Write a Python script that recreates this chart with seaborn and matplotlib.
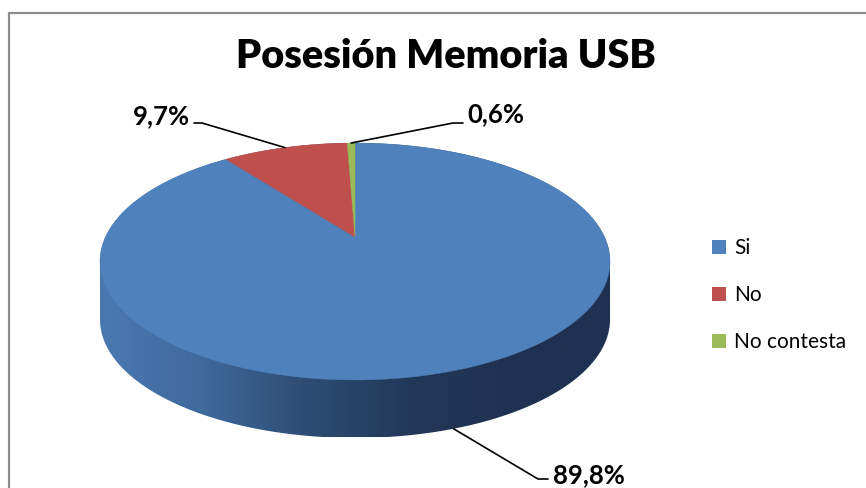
import numpy as np
import matplotlib
matplotlib.use("Agg")
import matplotlib.pyplot as plt
from matplotlib.patches import Polygon, Patch
from matplotlib.colors import LinearSegmentedColormap
import seaborn as sns

# data
categories = ["Si", "No", "No contesta"]
values = [89.8, 9.7, 0.6]
title = "Posesión Memoria USB"

sns.set_style("white")
plt.rcParams['font.family'] = ['Lato', 'DejaVu Sans']
plt.rcParams['text.color'] = 'black'

colors = sns.color_palette(["#4F81BD", "#C0504D", "#9BBB59"])

fig = plt.figure(figsize=(8.66, 4.88), dpi=100)
ax = fig.add_axes([0, 0, 1, 1])
ax.set_xlim(0, 866)
ax.set_ylim(488, 0)
ax.axis('off')

# pie geometry (pixels), excel style 3d with a bit of perspective
cx, cy = 355, 237
A, B = 249.5, 113.4
p = 0.2067
T = 58


def proj(theta, dz=0):
    # theta in degrees, clockwise from 12 o'clock
    t = np.radians(theta)
    X, Z = np.sin(t), np.cos(t)
    d = 1 + p * Z
    return cx + A * X / d, cy - B * Z / d + dz


# side of the cylinder (only front part shows)
t_left, t_right = 258.07, 101.93
back = np.linspace(t_left, t_right + 360, 200)
front = np.linspace(t_right, t_left, 200)
xs = np.concatenate([proj(back)[0], proj(front, T)[0]])
ys = np.concatenate([proj(back)[1], proj(front, T)[1]])
sil = Polygon(np.column_stack([xs, ys]), closed=True, facecolor='none', edgecolor='none')
ax.add_patch(sil)
side_cmap = LinearSegmentedColormap.from_list(
    "side", ["#4a79b2", "#3f6a9c", "#2e4d75", "#223959", "#1f3150", "#1f3150"])
grad = np.linspace(0, 1, 256).reshape(1, -1)
im = ax.imshow(grad, cmap=side_cmap, aspect='auto',
               extent=(cx - 260, cx + 260, cy + 200, cy - 130), zorder=1)
im.set_clip_path(sil)
ax.set_xlim(0, 866)
ax.set_ylim(488, 0)

# top face wedges
total = sum(values)
start = 0.0
mids = []
for val, col in zip(values, colors):
    span = val / total * 360
    th = np.linspace(start, start + span, max(int(span * 2), 4))
    px, py = proj(th)
    pts = np.column_stack([np.r_[cx, px], np.r_[cy, py]])
    ax.add_patch(Polygon(pts, closed=True, facecolor=col, edgecolor=col, lw=0.3, zorder=2))
    mids.append(start + span / 2)
    start += span

# data labels with leader lines
lab_font = dict(fontsize=18.5, fontweight='bold', color='black')
texts = [f"{v:.1f}".replace('.', ',') + '%' for v in values]

# Si: bottom of side
ax_, ay_ = proj(mids[0], T)
ax.plot([ax_, 538, 548], [ay_, 479, 479], color='black', lw=1.2, zorder=3)
ax.text(553, 475, texts[0], ha='left', va='center', **lab_font)
# No
ax_, ay_ = proj(mids[1])
ax.plot([ax_, 202, 194], [ay_, 123, 123], color='black', lw=1.2, zorder=3)
ax.text(190, 116, texts[1], ha='right', va='center', **lab_font)
# No contesta
ax_, ay_ = proj(mids[2])
ax.plot([ax_, 453, 463], [ay_, 123, 123], color='black', lw=1.2, zorder=3)
ax.text(467, 114, texts[2], ha='left', va='center', **lab_font)

# title
ax.text(446, 56, title, ha='center', va='center', fontsize=28.5, fontweight='heavy', color='black')

# legend
handles = [Patch(facecolor=c, edgecolor='none') for c in colors]
leg = ax.legend(handles, categories, loc='upper left', bbox_to_anchor=(712 / 866, 1 - 238 / 488),
                frameon=False, fontsize=15, handlelength=0.66, handleheight=0.66,
                handletextpad=0.42, labelspacing=1.3, borderpad=0, borderaxespad=0)
for t in leg.get_texts():
    t.set_color('black')

# chart area border
ax.plot([8.5, 8.5, 866], [488, 12.5, 12.5], color='#8c8c8c', lw=1.6, solid_capstyle='butt')

fig.savefig("out.png", dpi=100)
